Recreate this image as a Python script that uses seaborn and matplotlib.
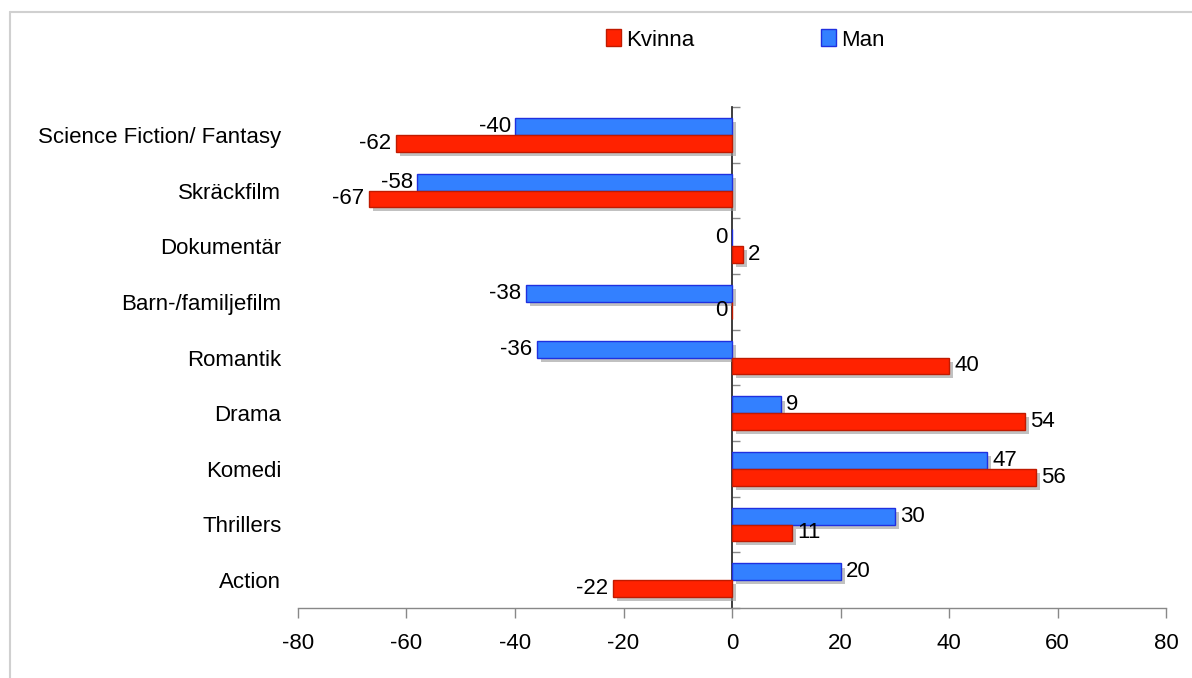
import matplotlib
matplotlib.use("Agg")
import matplotlib.pyplot as plt
import matplotlib.patheffects as pe
from matplotlib.lines import Line2D
from matplotlib.patches import Patch
import seaborn as sns
import pandas as pd

categories = ["Science Fiction/ Fantasy", "Skräckfilm", "Dokumentär", "Barn-/familjefilm",
              "Romantik", "Drama", "Komedi", "Thrillers", "Action"]
kvinna = [-62, -67, 2, 0, 40, 54, 56, 11, -22]
man = [-40, -58, 0, -38, -36, 9, 47, 30, 20]
xticks = [-80, -60, -40, -20, 0, 20, 40, 60, 80]

df = pd.DataFrame({
    "Genre": categories * 2,
    "Värde": man + kvinna,
    "Kön": ["Man"] * len(categories) + ["Kvinna"] * len(categories),
})

sns.set_theme(style="white")
plt.rcParams["font.family"] = ["Liberation Sans", "DejaVu Sans"]
plt.rcParams["text.color"] = "black"
plt.rcParams["xtick.color"] = "black"
plt.rcParams["ytick.color"] = "black"

FS = 16
RED = "#ff2200"
RED_EDGE = "#c01a00"
BLUE = "#3380ff"
BLUE_EDGE = "#1f30e0"

fig = plt.figure(figsize=(11.92, 6.78), dpi=100)
ax = fig.add_axes([298 / 1192, 1 - 608 / 678, 868 / 1192, (608 - 107) / 678])

sns.barplot(data=df, y="Genre", x="Värde", hue="Kön", hue_order=["Man", "Kvinna"],
            palette={"Man": BLUE, "Kvinna": RED}, order=categories, orient="h",
            width=0.6, saturation=1, legend=False, ax=ax, errorbar=None)

shadow = [pe.SimplePatchShadow(offset=(3, -3), shadow_rgbFace="#999999", alpha=0.6), pe.Normal()]
for p in ax.patches:
    fc = p.get_facecolor()
    is_blue = fc[2] > 0.5
    p.set_edgecolor(BLUE_EDGE if is_blue else RED_EDGE)
    p.set_linewidth(1.0)
    p.set_path_effects(shadow)
    w = p.get_width()
    yc = p.get_y() + p.get_height() / 2
    if w > 0:
        ax.text(w + 1.0, yc, f"{w:.0f}", ha="left", va="center", fontsize=FS, color="black")
    else:
        ax.text(w - 0.8, yc, f"{abs(w):.0f}" if w == 0 else f"{w:.0f}", ha="right", va="center",
                fontsize=FS, color="black")

ax.set_xlim(-80, 80)
ax.set_ylim(len(categories) - 0.5, -0.5)
ax.set_xticks(xticks)
ax.set_xticklabels([str(t) for t in xticks])
ax.set_xlabel("")
ax.set_ylabel("")
for s in ["top", "right", "left"]:
    ax.spines[s].set_visible(False)
ax.spines["bottom"].set_color("#888888")
ax.spines["bottom"].set_linewidth(1.0)
ax.tick_params(axis="x", which="major", direction="out", length=7, width=1, color="#888888",
               labelcolor="black", labelsize=FS, pad=11, bottom=True)
ax.tick_params(axis="y", which="major", length=0, labelcolor="black", labelsize=FS, pad=12)
ax.grid(False)

# vertical axis line at zero with category-boundary ticks
sec = ax.secondary_yaxis(0.5)
sec.set_yticks([i - 0.5 for i in range(len(categories) + 1)])
sec.set_yticklabels([])
sec.tick_params(direction="out", length=6, width=1, color="#888888")
sec.spines["left"].set_color("#555555")
sec.spines["left"].set_linewidth(1.0)

handles = [Patch(facecolor=RED, edgecolor=RED_EDGE, label="Kvinna"),
           Patch(facecolor=BLUE, edgecolor=BLUE_EDGE, label="Man")]
fig.legend(handles=handles, loc="center", bbox_to_anchor=(745 / 1192, 1 - 40 / 678), ncol=2,
           frameon=False, fontsize=FS, handlelength=0.7, handleheight=0.8, handletextpad=0.2,
           columnspacing=5.7)

# outer frame
fig.add_artist(Line2D([10 / 1192, 1], [1 - 12 / 678, 1 - 12 / 678], transform=fig.transFigure,
                      color="#d0d0d0", lw=1.5))
fig.add_artist(Line2D([10 / 1192, 10 / 1192], [0, 1 - 12 / 678], transform=fig.transFigure,
                      color="#d0d0d0", lw=1.5))

fig.savefig("out.png", dpi=100)
